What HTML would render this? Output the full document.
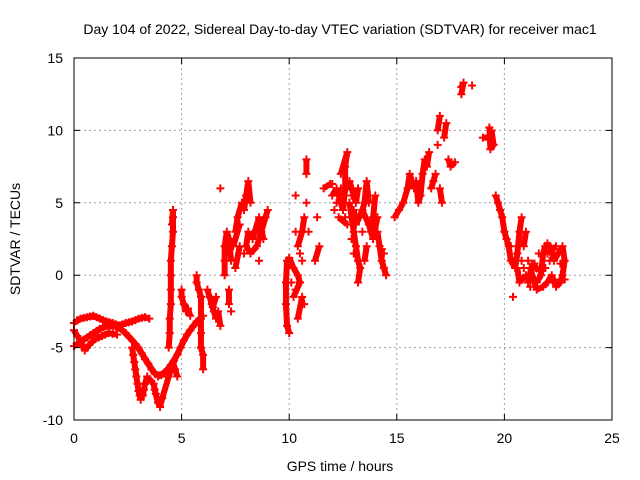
<!DOCTYPE html>
<html><head><meta charset="utf-8"><style>
body{margin:0;background:#fff;}
svg{display:block;font-family:"Liberation Sans",sans-serif;}
</style></head><body>
<svg id="chart" width="640" height="480">
<rect width="640" height="480" fill="#fff"/>
<text x="340" y="34" font-size="14" text-anchor="middle">Day 104 of 2022, Sidereal Day-to-day VTEC variation (SDTVAR) for receiver mac1</text>
<text transform="translate(20,239) rotate(-90)" font-size="14" text-anchor="middle">SDTVAR / TECUs</text>
<text x="340" y="471" font-size="14" text-anchor="middle">GPS time / hours</text>
<g id="grid"></g><g id="marks"></g>
<rect x="74" y="58" width="538" height="362" fill="none" stroke="#000" stroke-width="1"/>
<g id="ticks"></g>
</svg>
<script>
const xTicks=[0,5,10,15,20,25];
const yTicks=[-10,-5,0,5,10,15];
const traceA=[[0,-3.3],[0.3,-3.0],[0.6,-2.9],[0.9,-2.8],[1.2,-3.0],[1.5,-3.2],[1.8,-3.3],[2.1,-3.5],[2.4,-3.3],[2.7,-3.2],[3.0,-3.0],[3.3,-2.9],[3.5,-3.0],[0.15,-3.1],[0.45,-2.95],[0.75,-2.85],[1.05,-2.9],[1.35,-3.1],[1.65,-3.25],[1.95,-3.4],[2.25,-3.4],[2.55,-3.25],[2.85,-3.1],[3.15,-2.95]];
const traceB=[[0,-4.9],[0.3,-4.6],[0.6,-4.3],[0.9,-4.0],[1.2,-3.7],[1.5,-3.5],[1.8,-3.5],[2.1,-3.6],[2.4,-4.0],[2.7,-4.5],[3.0,-5.0],[3.3,-5.8],[3.6,-6.5],[3.9,-7.0],[4.2,-6.8],[4.5,-6.2],[4.8,-5.5],[5.1,-4.5],[5.4,-3.8],[5.7,-3.2],[6.0,-2.8],[0.15,-4.75],[0.45,-4.45],[0.75,-4.15],[1.05,-3.85],[1.35,-3.6],[1.65,-3.5],[1.95,-3.55],[2.25,-3.8],[2.55,-4.25],[2.85,-4.75],[3.15,-5.4],[3.45,-6.1],[3.75,-6.8],[4.05,-6.9],[4.35,-6.5],[4.65,-5.9],[4.95,-5.0],[5.25,-4.1],[5.55,-3.5],[5.85,-3.0]];
const traceC=[[0,-3.8],[0.15,-4.2],[0.3,-4.5],[0.4,-4.9],[0.5,-5.2],[0.6,-5.0],[0.7,-4.8],[0.85,-4.6],[1.0,-4.4],[1.15,-4.3],[1.3,-4.2],[1.45,-4.1],[1.6,-4.0],[1.8,-4.05],[2.0,-4.1]];
const traceD=[[2.7,-5.0],[2.75,-5.5],[2.8,-6],[2.85,-6.5],[2.9,-7],[2.95,-7.5],[3.0,-8],[3.05,-8.3],[3.1,-8.6],[3.2,-8.3],[3.25,-7.9],[3.3,-7.5],[3.4,-7.0],[3.7,-7.5],[3.75,-7.9],[3.8,-8.2],[3.9,-8.8],[4.0,-9.1],[4.1,-8.5],[4.4,-7.0],[4.5,-6.5],[4.6,-6.0],[4.7,-6.5],[4.8,-7.0]];
const traceE=[[4.4,-5],[4.45,-4],[4.45,-3],[4.5,-2],[4.5,-1],[4.5,0],[4.5,1],[4.55,2],[4.6,3],[4.6,4],[4.6,4.5],[4.55,3.5],[5.0,-1],[5.0,-1.5],[5.1,-2],[5.2,-2.5],[5.3,-2.3],[5.4,-2.8],[5.7,0],[5.7,-0.5],[5.8,-1],[5.9,-1.5],[5.9,-3],[5.9,-4],[5.9,-5],[6.0,-5.5],[6.0,-6.5],[6.2,-1],[6.3,-1.5],[6.4,-2],[6.5,-2.5],[6.6,-3],[6.7,-2.5],[6.8,-3.5],[6.6,-1.5],[6.45,-2.2]];
const traceF=[[7.0,0],[7.0,1],[7.0,2],[7.1,3],[7.2,2.5],[7.3,1],[7.2,-1],[7.2,-2],[7.5,3],[7.6,4],[7.8,5],[7.9,4.5],[8.0,5.5],[8.1,6.5],[8.2,5],[8.1,3],[8.0,2],[8.2,1.5],[8.5,2],[8.7,3],[8.9,4],[9.0,4.5],[8.6,1],[8.4,3],[7.7,2],[7.5,0.5],[7.3,-2.5],[6.8,6],[7.4,2],[7.7,3.5],[8.3,2.5],[8.6,4],[8.8,2.5],[7.9,1.5]];
const traceG=[[10.0,-4],[9.9,-3.5],[9.85,-2],[9.85,-0.5],[9.9,1],[10.0,1.2],[10.2,0.5],[10.4,0],[10.5,-0.5],[10.2,-1.5],[10.6,1],[10.7,-2],[10.3,3],[10.3,5.5],[10.4,2],[10.6,3],[10.7,4],[10.8,7],[10.8,8],[10.8,5],[10.9,3],[10.6,-1.5],[10.4,-3],[10.1,-0.5],[10.5,1.5],[10.3,-1],[11.3,4],[11.4,2],[11.2,1],[11.6,6],[11.9,6.3]];
const traceH=[[12.0,5.5],[12.2,6],[12.4,5],[12.5,4.5],[12.6,6],[12.6,7.5],[12.7,8.5],[12.4,7],[12.8,5],[12.9,4],[13.0,3],[13.1,2],[13.2,1],[13.3,0.5],[13.2,-0.5],[13.0,1.5],[12.7,3.5],[12.3,4],[13.3,4],[13.5,5],[13.6,6.5],[13.7,5],[13.8,3],[13.9,4],[14.0,5.5],[14.1,3],[14.2,2],[14.3,1],[14.4,0.5],[14.5,0],[14.3,1.8],[13.6,2],[13.5,1],[12.1,4.5],[12.5,5.5],[12.8,6.5],[13.1,5],[13.2,6],[13.4,3],[12.9,5.5],[12.3,5.5],[14.4,1.5],[12.2,5],[12.6,4],[13.0,4.5],[13.1,3.5],[13.4,4.5],[13.7,3.5],[13.9,2.5],[14.1,4],[12.9,2.5],[12.4,6],[12.0,6.3]];
const traceI=[[14.9,4],[15.1,4.5],[15.3,5],[15.5,6],[15.6,7],[15.8,6],[15.9,6.5],[16.0,5],[16.1,5.5],[16.2,7],[16.3,8],[16.4,7.5],[16.5,8.5],[16.6,6],[16.7,6.5],[16.8,7],[16.9,10],[17.0,11],[16.9,9],[17.0,6],[17.1,5],[17.2,9.5],[17.3,10.5],[17.4,8],[17.5,7.5],[17.7,7.8],[18.0,13],[18.1,13.3],[18.0,12.5],[18.5,13.1],[19.0,9.5],[19.3,9.5],[19.4,10],[19.5,9],[19.35,8.7],[19.3,10.2]];
const traceJ=[[19.6,5.5],[19.7,5],[19.8,4.5],[19.9,4],[20.0,3],[20.1,2.5],[20.2,2],[20.3,1],[20.5,0.5],[20.6,1.5],[20.7,3],[20.8,4],[20.9,2],[21.0,3],[21.1,1],[20.4,-1.5],[20.6,0.5],[20.7,-0.5],[21.0,0],[21.3,-0.3],[21.5,-0.5],[21.7,0],[21.8,1.5],[21.9,2],[22.0,2.2],[22.2,1.8],[22.3,1],[22.5,1.5],[22.7,2],[22.8,1.0],[22.7,0],[22.6,-0.5],[22.4,-0.8],[22.2,0],[22.0,-0.5],[21.8,-0.8],[21.5,-1],[21.2,0.5],[22.5,-0.5],[22.8,-0.3],[21.6,1.5],[20.3,2],[20.9,0.5],[21.4,0.8],[22.1,1],[22.6,0.8],[21.1,-0.5],[21.3,0.8],[21.6,0.3],[21.9,0.5],[22.3,-0.3],[22.0,1.5],[22.4,2],[20.8,1],[21.2,-0.8]];
const traces=[traceA,traceB,traceC,traceD,traceE,traceF,traceG,traceH,traceI,traceJ];
const NS='http://www.w3.org/2000/svg';
const X0=74,X1=612,Y0=420,Y1=58;
function sx(v){return X0+(v-0)/(25-0)*(X1-X0);}
function sy(v){return Y0-(v+10)/(15+10)*(Y0-Y1);}
const grid=document.getElementById('grid'),ticks=document.getElementById('ticks'),marks=document.getElementById('marks');
function mk(t,a){const e=document.createElementNS(NS,t);for(const k in a)e.setAttribute(k,a[k]);return e;}
xTicks.forEach(v=>{const x=sx(v);
 if(v>0&&v<25){const g=mk('line',{x1:x,y1:Y0,x2:x,y2:Y1,stroke:'#a0a0a0','stroke-dasharray':'2,3'});
 
 grid.appendChild(g);}
 const tk=mk('path',{d:`M${x},${Y0}v-6M${x},${Y1}v6`,stroke:'#000'});
 
 ticks.appendChild(tk);
 const t=mk('text',{x:x,y:443,'font-size':14,'text-anchor':'middle'});t.textContent=v;
 
 ticks.appendChild(t);});
yTicks.forEach(v=>{const y=sy(v);
 if(v>-10&&v<15){const g=mk('line',{x1:X0,y1:y,x2:X1,y2:y,stroke:'#a0a0a0','stroke-dasharray':'2,3'});
 
 grid.appendChild(g);}
 const tk=mk('path',{d:`M${X0},${y}h6M${X1},${y}h-6`,stroke:'#000'});
 
 ticks.appendChild(tk);
 const t=mk('text',{x:63,y:y+5,'font-size':14,'text-anchor':'end'});t.textContent=v;
 
 ticks.appendChild(t);});
traces.forEach(tr=>{
 for(let i=0;i<tr.length;i++){const x=sx(tr[i][0]),y=sy(tr[i][1]);
  const p=mk('path',{d:`M${x-4},${y}h8M${x},${y-4}v8`,stroke:'#ff0000','stroke-width':2});
  
  marks.appendChild(p);
  if(i>0&&Math.abs(tr[i][0]-tr[i-1][0])<0.4&&Math.abs(tr[i][1]-tr[i-1][1])<1.6){
   const l=mk('line',{x1:sx(tr[i-1][0]),y1:sy(tr[i-1][1]),x2:x,y2:y,stroke:'#ff0000','stroke-width':6});
   
   marks.appendChild(l);}
 }});
</script>
</body></html>
